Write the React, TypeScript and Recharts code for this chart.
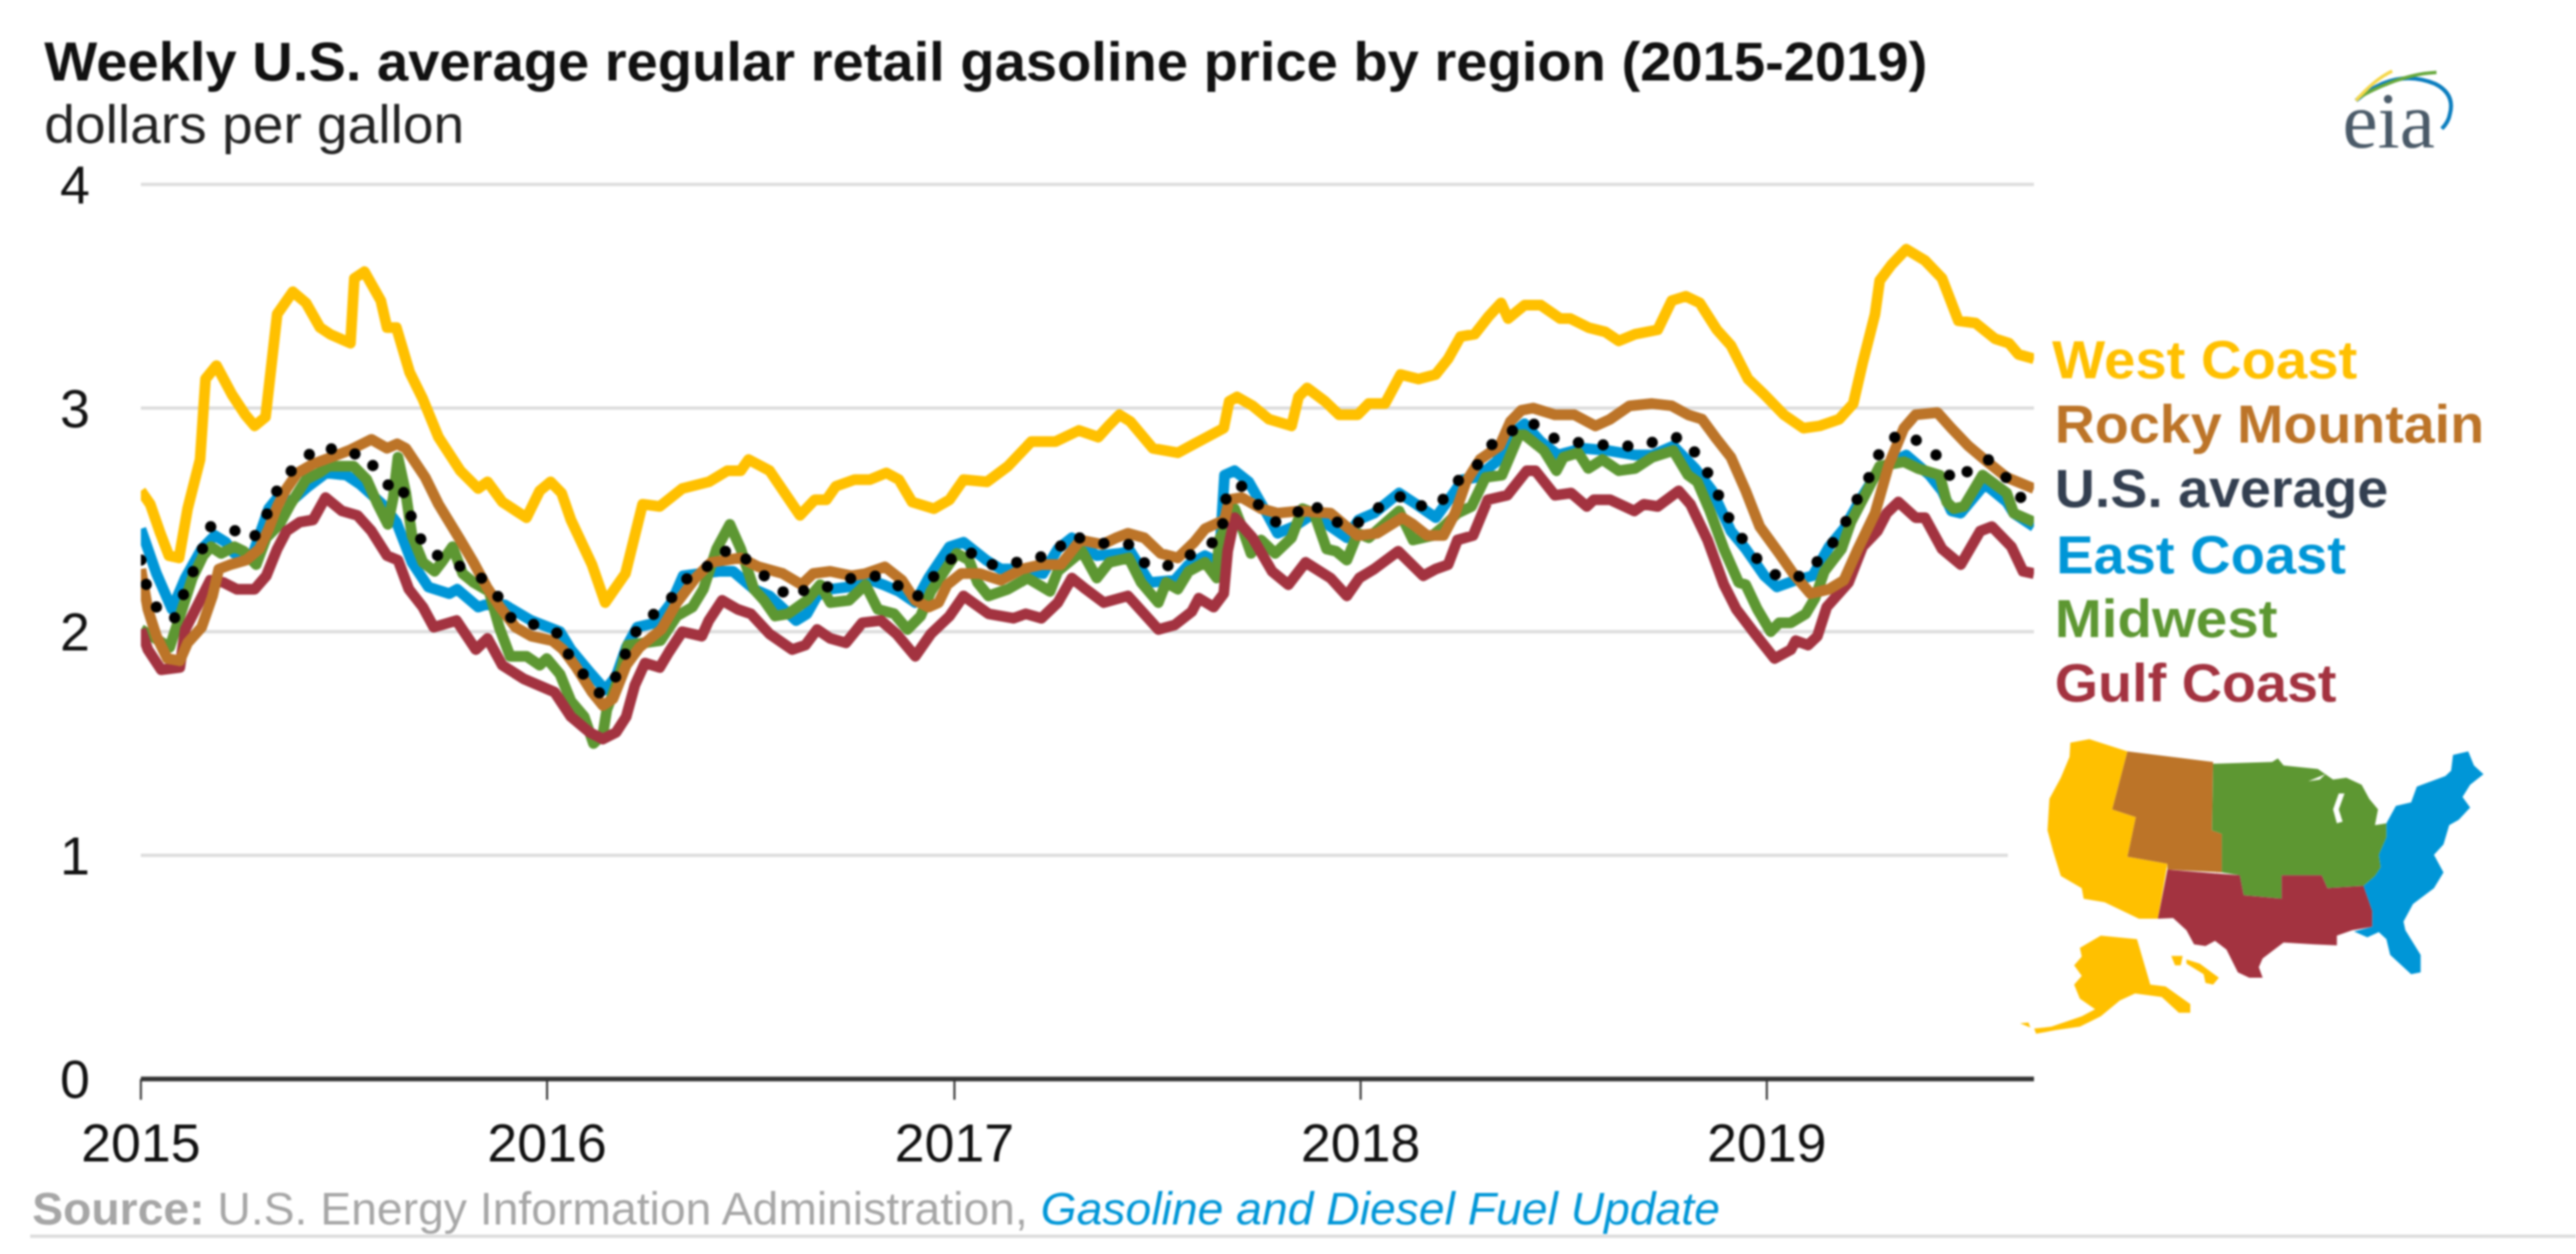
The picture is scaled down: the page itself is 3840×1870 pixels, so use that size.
import React from 'react';
import { LineChart, Line, XAxis, YAxis, CartesianGrid } from 'recharts';

const FONT = '"Liberation Sans", Arial, sans-serif';

const yearTicks = [0, 52.14, 104.43, 156.57, 208.71];
const yearLabels = ['2015', '2016', '2017', '2018', '2019'];
const priceTicks = [0, 1, 2, 3, 4];

// [weeks since the first week of 2015, dollars per gallon]
const westCoast: [number, number][] = [
  [0, 2.63], [1.2, 2.57], [2.5, 2.44], [3.6, 2.34], [4.9, 2.33], [6, 2.55], [7.6, 2.77], [8.3, 3.13], [9.7, 3.19],
  [11.7, 3.06], [13.4, 2.97], [14.6, 2.92], [16, 2.96], [17.5, 3.42], [19.5, 3.52], [21.2, 3.47], [23, 3.36],
  [24.3, 3.33], [26.9, 3.29], [27.4, 3.58], [28.7, 3.61], [30.8, 3.48], [31.6, 3.36], [32.8, 3.36], [34.5, 3.16],
  [36.2, 3.04], [38.2, 2.87], [41, 2.72], [43.3, 2.64], [44.5, 2.67], [46.4, 2.58], [49.5, 2.51], [51.2, 2.63],
  [52.6, 2.67], [54, 2.62], [55.2, 2.5], [57.9, 2.3], [59.6, 2.13], [62.2, 2.26], [64.4, 2.57], [66.6, 2.56],
  [69.5, 2.64], [72.9, 2.67], [75.3, 2.72], [77, 2.72], [78, 2.77], [80.7, 2.72], [84.6, 2.52], [86.5, 2.59],
  [88, 2.59], [89.2, 2.65], [91.6, 2.68], [93.6, 2.68], [95.7, 2.71], [97.3, 2.68], [99, 2.58], [101.8, 2.55],
  [103.8, 2.59], [105.6, 2.68], [108.6, 2.67], [111.3, 2.74], [114.3, 2.85], [117.4, 2.85], [120.4, 2.9],
  [122.9, 2.87], [124.2, 2.92], [125.6, 2.97], [127, 2.94], [129.9, 2.82], [133.1, 2.8], [136.3, 2.86], [139, 2.91],
  [139.7, 3.03], [140.7, 3.05], [142.7, 3.01], [144.8, 2.95], [147.7, 2.92], [148.6, 3.05], [149.7, 3.09], [152, 3.03],
  [153.8, 2.97], [156.2, 2.97], [157.6, 3.02], [159.7, 3.02], [161.7, 3.15], [164, 3.13], [166.2, 3.15], [167.8, 3.22],
  [169.4, 3.32], [171.2, 3.33], [173, 3.41], [174.6, 3.47], [175.5, 3.4], [177.6, 3.46], [179.7, 3.46], [182.2, 3.4],
  [183.5, 3.4], [185.8, 3.36], [188, 3.34], [189.7, 3.3], [191.8, 3.33], [194.7, 3.35], [196.5, 3.48], [198.3, 3.5],
  [200.1, 3.47], [202.3, 3.35], [204.1, 3.28], [206.3, 3.13], [208.4, 3.06], [210.9, 2.97], [213.4, 2.91], [215.5, 2.92],
  [218, 2.95], [219.8, 3.02], [221, 3.2], [222.6, 3.42], [223.2, 3.57], [224.7, 3.64], [226.6, 3.71], [229, 3.66],
  [231.2, 3.58], [233.3, 3.39], [235.5, 3.38], [238, 3.31], [239.8, 3.29], [241, 3.24], [243, 3.22],
];

const rockyMountain: [number, number][] = [
  [0, 2.28], [0.9, 2.1], [2, 1.98], [3.4, 1.88], [5, 1.87], [6, 1.95], [7.8, 2.02], [9.2, 2.16], [10, 2.28],
  [11.5, 2.3], [13.5, 2.32], [15.2, 2.37], [16.4, 2.46], [17.5, 2.56], [18.7, 2.64], [20.1, 2.71], [22.1, 2.75],
  [24.4, 2.78], [26.7, 2.81], [29.6, 2.86], [31.6, 2.82], [32.9, 2.84], [34, 2.82], [36.5, 2.69], [38.2, 2.57],
  [41, 2.41], [42.7, 2.31], [44.4, 2.2], [46.1, 2.11], [48.1, 2.02], [50.1, 1.98], [52.8, 1.96], [54.2, 1.92],
  [55.9, 1.84], [57.9, 1.73], [59.3, 1.67], [60.6, 1.7], [62.3, 1.85], [64, 1.93], [66.8, 2.01], [68.8, 2.13],
  [71.2, 2.24], [73.2, 2.31], [77, 2.33], [79.3, 2.29], [82.4, 2.26], [84.8, 2.21], [86.3, 2.26], [88.5, 2.27],
  [91.2, 2.25], [93, 2.26], [95.5, 2.29], [97.7, 2.23], [99.4, 2.14], [101.1, 2.11], [102.4, 2.13], [103.5, 2.21],
  [105.3, 2.26], [107.7, 2.26], [110.4, 2.23], [113.1, 2.28], [115.6, 2.3], [118.1, 2.3], [120.6, 2.41], [123.4, 2.39],
  [125.2, 2.42], [126.7, 2.44], [128.8, 2.42], [130.9, 2.35], [133.1, 2.33], [135.2, 2.4], [136.6, 2.46], [139.1, 2.5],
  [139.7, 2.59], [141.3, 2.6], [143.8, 2.55], [145.9, 2.53], [148.8, 2.54], [152.7, 2.53], [155.1, 2.46], [156.2, 2.43],
  [158.7, 2.44], [161.9, 2.51], [163.3, 2.48], [165.1, 2.43], [167.2, 2.43], [168.7, 2.53], [170.1, 2.67], [171.9, 2.77],
  [174.4, 2.83], [175.8, 2.94], [177.2, 2.99], [178.7, 3], [181.5, 2.97], [184, 2.97], [186.7, 2.92], [188.6, 2.95],
  [191.1, 3.01], [194, 3.02], [196.5, 3.01], [198.6, 2.97], [200.4, 2.95], [202.3, 2.86], [204.1, 2.78], [206, 2.63],
  [207.8, 2.47], [210.3, 2.35], [212.1, 2.26], [214.3, 2.17], [216.7, 2.19], [218.6, 2.23], [220.4, 2.37], [222.6, 2.53],
  [224.4, 2.75], [226.3, 2.91], [227.8, 2.97], [230.6, 2.98], [232.4, 2.91], [234.6, 2.83], [237, 2.76], [239.5, 2.69],
  [243, 2.64],
];

const usAverage: [number, number][] = [
  [0, 2.32], [0.7, 2.21], [2, 2.11], [4.2, 2.05], [5.4, 2.16], [6.6, 2.26], [7.9, 2.37], [8.75, 2.47], [11.6, 2.46],
  [14.3, 2.41], [15.9, 2.5], [17.1, 2.61], [18.8, 2.7], [21, 2.78], [23.5, 2.83], [26.4, 2.79], [28.7, 2.8], [30.4, 2.71],
  [31.9, 2.65], [33.3, 2.67], [34.2, 2.57], [35.2, 2.46], [36.8, 2.36], [39.5, 2.32], [41.6, 2.28], [44.2, 2.23],
  [46, 2.15], [47.7, 2.05], [50.8, 2.03], [53.7, 1.99], [55, 1.89], [57, 1.8], [59, 1.72], [61, 1.8], [62.3, 1.91],
  [63.7, 2.01], [65.9, 2.08], [67.9, 2.14], [69.6, 2.23], [72, 2.26], [74, 2.35], [76.3, 2.37], [78.7, 2.29], [81, 2.22],
  [83.4, 2.15], [85.9, 2.2], [88.5, 2.2], [91.3, 2.24], [94.1, 2.25], [97, 2.21], [99.5, 2.15], [101.6, 2.24],
  [103.8, 2.32], [105.9, 2.37], [108.5, 2.3], [111.5, 2.3], [114.3, 2.33], [117.2, 2.34], [119, 2.43], [121.7, 2.41],
  [124.3, 2.39], [127, 2.39], [129, 2.3], [131.5, 2.29], [134, 2.33], [136.6, 2.38], [138.7, 2.42], [139, 2.53],
  [139.5, 2.64], [141.3, 2.65], [143.4, 2.57], [145.6, 2.49], [148, 2.52], [150.1, 2.58], [152.5, 2.51], [155.1, 2.46],
  [157.6, 2.52], [160.2, 2.59], [162.5, 2.61], [164.9, 2.55], [167.6, 2.6], [169.4, 2.69], [171.7, 2.75], [173.5, 2.84],
  [176.1, 2.9], [178.4, 2.94], [180.8, 2.87], [183.4, 2.85], [186.1, 2.84], [189.3, 2.83], [192.4, 2.83], [195.4, 2.86],
  [197.8, 2.87], [200, 2.78], [201.6, 2.68], [202.9, 2.58], [204.2, 2.48], [206.1, 2.39], [208, 2.3], [210.4, 2.24],
  [213.7, 2.25], [215.8, 2.34], [217.7, 2.42], [219.3, 2.52], [220.7, 2.62], [222.3, 2.72], [223.5, 2.83], [226, 2.89],
  [228.8, 2.84], [231.1, 2.77], [232.6, 2.67], [234.6, 2.72], [237.1, 2.77], [239.4, 2.69], [241.3, 2.6], [243, 2.56],
];

const eastCoast: [number, number][] = [
  [0, 2.46], [2, 2.26], [4, 2.1], [5.7, 2.24], [7.8, 2.37], [9.5, 2.43], [10.9, 2.4], [12, 2.35], [14.3, 2.34],
  [16.4, 2.55], [17.8, 2.61], [19.2, 2.58], [21.5, 2.65], [23.8, 2.71], [26.4, 2.7], [28.1, 2.66], [31, 2.57], [32.8, 2.49],
  [34.8, 2.31], [36.9, 2.2], [39.6, 2.17], [40.6, 2.19], [43.3, 2.11], [44.2, 2.12], [46.7, 2.12], [50.1, 2.05],
  [53.8, 2], [55.2, 1.92], [57.6, 1.82], [59.6, 1.74], [61, 1.8], [62.3, 1.93], [63.7, 2.02], [66.1, 2.04], [68.1, 2.13],
  [69.6, 2.25], [71.8, 2.26], [74.2, 2.27], [76, 2.27], [78.7, 2.19], [80.7, 2.16], [84.1, 2.05], [85.5, 2.08],
  [86.8, 2.16], [88.5, 2.19], [90.9, 2.2], [93, 2.24], [95.3, 2.21], [97.3, 2.18], [99.4, 2.13], [101.1, 2.24],
  [103.8, 2.38], [105.6, 2.4], [108.5, 2.32], [110.4, 2.28], [112.7, 2.28], [115.8, 2.26], [117.7, 2.37], [119.5, 2.42],
  [122.7, 2.34], [125.6, 2.35], [127, 2.36], [129.5, 2.22], [132.7, 2.23], [134.5, 2.3], [136.6, 2.34], [138.4, 2.31],
  [139.1, 2.7], [140.4, 2.72], [142.2, 2.67], [144.5, 2.53], [145.9, 2.44], [148, 2.47], [150.6, 2.53], [152.7, 2.47],
  [154.8, 2.42], [156.3, 2.5], [158.3, 2.53], [161.5, 2.62], [163.7, 2.57], [166.2, 2.51], [168.3, 2.61], [169.7, 2.68],
  [171.5, 2.69], [174, 2.76], [176.2, 2.89], [177.6, 2.93], [179.7, 2.85], [181.9, 2.79], [185.1, 2.82], [188.3, 2.81],
  [191.8, 2.79], [194, 2.79], [196.7, 2.83], [199.5, 2.73], [201.7, 2.63], [204.1, 2.45], [206, 2.37], [208.4, 2.25],
  [210, 2.2], [212.4, 2.23], [214.6, 2.25], [216.7, 2.38], [218.6, 2.46], [220.7, 2.59], [223.2, 2.73], [226.6, 2.79],
  [229.6, 2.7], [231.2, 2.63], [232.4, 2.54], [233.6, 2.53], [236.7, 2.66], [239.5, 2.58], [240.4, 2.53], [243, 2.47],
];

const midwest: [number, number][] = [
  [0, 2.01], [3.7, 1.93], [5.2, 2.09], [6.6, 2.24], [8, 2.34], [9, 2.38], [10.3, 2.35], [12, 2.38], [13.2, 2.36],
  [14.8, 2.3], [16.1, 2.42], [17.8, 2.48], [19.2, 2.57], [21.2, 2.68], [22.9, 2.71], [24.1, 2.74], [27.3, 2.74],
  [29, 2.68], [30.4, 2.57], [31.7, 2.48], [32.4, 2.6], [33, 2.78], [34, 2.62], [34.8, 2.43], [36.2, 2.31], [37.7, 2.27],
  [38.6, 2.31], [40, 2.38], [41.3, 2.26], [42.7, 2.22], [44.7, 2.18], [46, 2.02], [47.4, 1.89], [49.5, 1.89], [51.2, 1.85],
  [52.1, 1.88], [53.8, 1.81], [55.2, 1.69], [56.9, 1.62], [58.1, 1.5], [59.3, 1.54], [59.8, 1.65], [61.3, 1.79],
  [62.5, 1.94], [66.7, 1.96], [68.8, 2.07], [70.8, 2.11], [72.2, 2.19], [73.9, 2.37], [75.6, 2.48], [77, 2.37],
  [78.7, 2.19], [80, 2.14], [81.4, 2.07], [83.1, 2.08], [85.5, 2.14], [87.2, 2.21], [88.5, 2.13], [90.9, 2.14], [93, 2.21],
  [94.6, 2.1], [96.7, 2.08], [98.4, 2.01], [100.1, 2.07], [101.4, 2.18], [103.5, 2.29], [104.7, 2.35], [106.3, 2.32],
  [107.4, 2.22], [108.8, 2.16], [111.3, 2.19], [113.8, 2.24], [116.7, 2.18], [117.7, 2.27], [120.8, 2.36], [122.7, 2.24],
  [124.3, 2.31], [126.8, 2.33], [128.4, 2.22], [130.6, 2.13], [131.6, 2.22], [133.1, 2.19], [134.5, 2.27], [136.6, 2.31],
  [138.1, 2.24], [138.4, 2.41], [140.4, 2.55], [141.3, 2.47], [142.5, 2.35], [143.8, 2.41], [145.6, 2.35], [147.7, 2.42],
  [149.1, 2.55], [150.6, 2.53], [152.2, 2.37], [153.4, 2.36], [154.8, 2.32], [156.2, 2.44], [157.6, 2.42], [161.5, 2.54],
  [163.3, 2.41], [165.8, 2.43], [167.2, 2.47], [169, 2.53], [170.8, 2.56], [172.6, 2.69], [174.7, 2.7], [176.9, 2.88],
  [177.6, 2.88], [180.1, 2.81], [181.7, 2.72], [182.6, 2.78], [184.5, 2.8], [185.8, 2.73], [187.6, 2.77], [189.7, 2.72],
  [191.8, 2.73], [194, 2.78], [196.7, 2.81], [198.6, 2.7], [199.8, 2.67], [201.4, 2.54], [203.2, 2.37], [205.1, 2.22],
  [206, 2.21], [207.5, 2.1], [209.2, 2], [210.3, 2.04], [211.8, 2.04], [213.7, 2.08], [214.9, 2.15], [216.1, 2.27],
  [218.3, 2.37], [219.5, 2.49], [221.3, 2.61], [223.2, 2.74], [226.3, 2.76], [228.1, 2.73], [230.9, 2.7], [231.8, 2.58],
  [232.7, 2.55], [234, 2.56], [236.4, 2.7], [239.5, 2.62], [240.4, 2.53], [243, 2.49],
];

const gulfCoast: [number, number][] = [
  [0, 2.01], [0.9, 1.92], [2.6, 1.83], [5, 1.84], [5.7, 2.01], [8.9, 2.23], [10.6, 2.22], [12.3, 2.19], [14.6, 2.19],
  [16.1, 2.25], [17.5, 2.37], [18.7, 2.45], [20.4, 2.49], [22.1, 2.5], [23.7, 2.6], [25.8, 2.54], [27.8, 2.52], [29.6, 2.45],
  [31.6, 2.34], [33, 2.32], [34.4, 2.19], [36.2, 2.11], [37.6, 2.02], [40.5, 2.05], [43, 1.92], [44.5, 1.97], [46.4, 1.85],
  [49.1, 1.79], [53.1, 1.73], [55.2, 1.62], [57.6, 1.55], [59.3, 1.52], [61, 1.55], [62.3, 1.62], [63.4, 1.76], [64.7, 1.86],
  [66.6, 1.84], [67.8, 1.91], [69.5, 2], [72, 1.98], [72.9, 2.05], [74.6, 2.14], [76.6, 2.1], [78.3, 2.08], [80.7, 1.99],
  [83.6, 1.92], [85.3, 1.94], [86.8, 2.01], [88.5, 1.97], [90.5, 1.95], [92.6, 2.04], [95, 2.05], [97, 1.99], [99.4, 1.89],
  [101.4, 1.99], [103.8, 2.07], [105.6, 2.16], [108.8, 2.08], [112, 2.06], [113.6, 2.08], [115.6, 2.06], [117.7, 2.13],
  [119.5, 2.24], [121.3, 2.19], [123.6, 2.13], [126.7, 2.16], [130.6, 2.01], [132.7, 2.03], [134.9, 2.09], [135.8, 2.15],
  [137.7, 2.11], [139, 2.17], [139.5, 2.36], [140.4, 2.51], [142.7, 2.42], [145.2, 2.27], [147.3, 2.21], [149.5, 2.31],
  [152.7, 2.24], [154.8, 2.16], [156.4, 2.24], [158.3, 2.28], [161.4, 2.36], [164.6, 2.25], [166.2, 2.28], [167.8, 2.3],
  [169, 2.41], [171, 2.43], [172.9, 2.59], [175.4, 2.61], [177.9, 2.72], [179, 2.72], [181.5, 2.61], [183.6, 2.62],
  [185.6, 2.56], [186.5, 2.59], [188.6, 2.59], [191.7, 2.54], [192.9, 2.57], [194.7, 2.56], [197.4, 2.63], [198.9, 2.57],
  [201.1, 2.41], [203.2, 2.21], [204.8, 2.1], [207.2, 1.99], [209.7, 1.88], [211.8, 1.92], [212.4, 1.96], [214, 1.94],
  [215.2, 1.98], [216.4, 2.11], [219.2, 2.22], [221, 2.38], [222.9, 2.45], [224.1, 2.53], [225.6, 2.58], [227.8, 2.51],
  [229, 2.51], [231.2, 2.37], [233.6, 2.3], [236.1, 2.45], [237.6, 2.47], [240.1, 2.38], [241.6, 2.27], [243, 2.26],
];

const toRows = (points: [number, number][]) => points.map(([week, price]) => ({ week, price }));

const legend = [
  { name: 'West Coast', color: '#FFC000', y: 564, x: 3059, width: 455 },
  { name: 'Rocky Mountain', color: '#BC7428', y: 660, x: 3063, width: 640 },
  { name: 'U.S. average', color: '#333F50', y: 756, x: 3063, width: 497 },
  { name: 'East Coast', color: '#0096D7', y: 855, x: 3065, width: 432 },
  { name: 'Midwest', color: '#5D9732', y: 950, x: 3063, width: 332 },
  { name: 'Gulf Coast', color: '#A33340', y: 1046, x: 3063, width: 420 },
];

// Inset map, outlines in a 1568 x 1568 box laid over the lower right corner
const RegionMap = () => (
  <svg
    style={{ position: 'absolute', left: 2950, top: 1050 }}
    width={890}
    height={820}
    viewBox="0 0 1568 1568"
    preserveAspectRatio="none"
  >
    <path fill="#FFC000" d="M240,110 L290,100 L390,135 L350,300 L412,322 L390,435 L495,455 L470,612 L420,612 L330,565 L275,555 L270,525 L215,490 L195,420 L180,360 L185,270 L215,210 L238,150 Z" />
    <path fill="#BC7428" d="M390,135 L615,165 L612,360 L638,370 L638,480 L495,472 L495,455 L390,435 L412,322 L350,300 Z" />
    <path fill="#5D9732" d="M615,170 L770,165 L785,155 L800,175 L890,185 L930,215 L965,210 L1005,230 L1025,270 L1048,300 L1040,345 L1070,340 L1070,380 L1050,430 L1055,465 L1040,490 L1010,518 L915,525 L900,488 L795,488 L795,555 L695,545 L685,488 L638,480 L638,370 L612,360 Z" />
    <path fill="#FFFFFF" d="M945,255 L930,300 L940,340 L955,335 L945,300 L960,255 Z M865,220 L910,200 L895,215 Z" />
    <path fill="#A33340" d="M495,472 L685,488 L695,545 L795,555 L795,488 L900,488 L915,525 L1010,518 L1033,590 L1033,635 L980,645 L940,660 L940,688 L880,685 L800,680 L745,725 L735,750 L745,780 L710,780 L680,765 L650,700 L620,675 L595,690 L565,685 L545,645 L510,610 L470,612 Z" />
    <path fill="#0096D7" d="M1245,145 L1285,135 L1300,175 L1325,200 L1290,230 L1270,265 L1290,295 L1260,330 L1235,345 L1220,400 L1195,430 L1220,480 L1195,525 L1140,570 L1115,620 L1120,645 L1160,715 L1160,765 L1135,770 L1080,715 L1070,670 L1050,650 L1020,665 L985,648 L1033,635 L1033,590 L1010,518 L1040,490 L1055,465 L1050,430 L1070,380 L1070,340 L1095,290 L1135,280 L1150,235 L1225,205 L1240,190 Z" />
    <path fill="#FFC000" d="M320,660 L415,670 L450,800 L490,805 L555,855 L555,880 L525,880 L480,835 L410,825 L370,845 L320,890 L265,920 L200,930 L150,940 L145,925 L190,920 L270,890 L305,870 L265,840 L250,800 L270,775 L250,745 L270,720 L265,695 Z M108,910 L130,908 L135,922 Z M505,718 L535,718 L530,745 L515,745 Z M545,728 L580,740 L630,780 L615,800 L595,795 L590,770 L545,740 Z" />
  </svg>
);

const App = () => (
  <div style={{ position: 'absolute', left: 0, top: 0, width: 3840, height: 1870, background: '#fff', overflow: 'hidden', filter: 'blur(1.5px)' }}>
    <LineChart width={3840} height={1870} margin={{ top: 275, right: 808, bottom: 141, left: 0 }}>
      <CartesianGrid vertical={false} stroke="#DDDDDD" strokeWidth={5} />
      <XAxis
        type="number"
        dataKey="week"
        domain={[0, 243]}
        allowDataOverflow
        ticks={yearTicks}
        interval={0}
        tickFormatter={(_, i) => yearLabels[i]}
        axisLine={{ stroke: '#333333', strokeWidth: 7 }}
        tickLine={{ stroke: '#333333', strokeWidth: 3 }}
        tickSize={31}
        tickMargin={35}
        tick={{ fontFamily: FONT, fontSize: 80, fill: '#111111' }}
        height={120}
      />
      <YAxis
        type="number"
        domain={[0, 4]}
        ticks={priceTicks}
        interval={0}
        axisLine={false}
        tickLine={false}
        tickSize={0}
        tickMargin={76}
        width={210}
        tick={{ fontFamily: FONT, fontSize: 80, fill: '#111111' }}
      />
      <Line data={toRows(westCoast)} dataKey="price" name="West Coast" stroke="#FFC000" strokeWidth={16} dot={false} strokeLinejoin="round" isAnimationActive={false} />
      <Line data={toRows(eastCoast)} dataKey="price" name="East Coast" stroke="#0096D7" strokeWidth={16} dot={false} strokeLinejoin="round" isAnimationActive={false} />
      <Line data={toRows(midwest)} dataKey="price" name="Midwest" stroke="#5D9732" strokeWidth={16} dot={false} strokeLinejoin="round" isAnimationActive={false} />
      <Line data={toRows(gulfCoast)} dataKey="price" name="Gulf Coast" stroke="#A33340" strokeWidth={16} dot={false} strokeLinejoin="round" isAnimationActive={false} />
      <Line data={toRows(rockyMountain)} dataKey="price" name="Rocky Mountain" stroke="#BC7428" strokeWidth={16} dot={false} strokeLinejoin="round" isAnimationActive={false} />
      <Line data={toRows(usAverage)} dataKey="price" name="U.S. average" stroke="#000000" strokeWidth={17} strokeDasharray="0 37" strokeLinecap="round" dot={false} isAnimationActive={false} />
    </LineChart>

    {/* the map image hides the end of the $1 gridline */}
    <div style={{ position: 'absolute', left: 2993, top: 1260, width: 60, height: 30, background: '#fff' }} />
    <RegionMap />

    <svg style={{ position: 'absolute', left: 0, top: 0 }} width={3840} height={1870} fontFamily={FONT}>
      <text x={66} y={120} fontSize={82} fontWeight="bold" fill="#111111" textLength={2807} lengthAdjust="spacingAndGlyphs">
        Weekly U.S. average regular retail gasoline price by region (2015-2019)
      </text>
      <text x={66} y={213} fontSize={80} fill="#222222" textLength={626} lengthAdjust="spacingAndGlyphs">
        dollars per gallon
      </text>

      {legend.map((item) => (
        <text key={item.name} x={item.x} y={item.y} fontSize={80} fontWeight="bold" fill={item.color} textLength={item.width} lengthAdjust="spacingAndGlyphs">
          {item.name}
        </text>
      ))}

      {/* eia logo */}
      <path d="M3512,150 Q3570,100 3630,125 Q3660,140 3652,170 Q3650,182 3640,192" fill="none" stroke="#0B7DBE" strokeWidth={6} />
      <path d="M3515,146 Q3580,110 3632,108" fill="none" stroke="#66A83C" strokeWidth={5} />
      <path d="M3512,150 Q3540,118 3566,106" fill="none" stroke="#F5D74A" strokeWidth={5} />
      <text x={3492} y={220} fontFamily='"Liberation Serif", serif' fontSize={118} fill="#4A5A68">eia</text>

      <text x={48} y={1826} fontSize={69} fill="#A6A6A6">
        <tspan fontWeight="bold">Source:</tspan>
        <tspan> U.S. Energy Information Administration, </tspan>
        <tspan fontStyle="italic" fill="#0096D7">Gasoline and Diesel Fuel Update</tspan>
      </text>
      <rect x={45} y={1841} width={3795} height={5} fill="#DDDDDD" />
    </svg>
  </div>
);

export default App;
